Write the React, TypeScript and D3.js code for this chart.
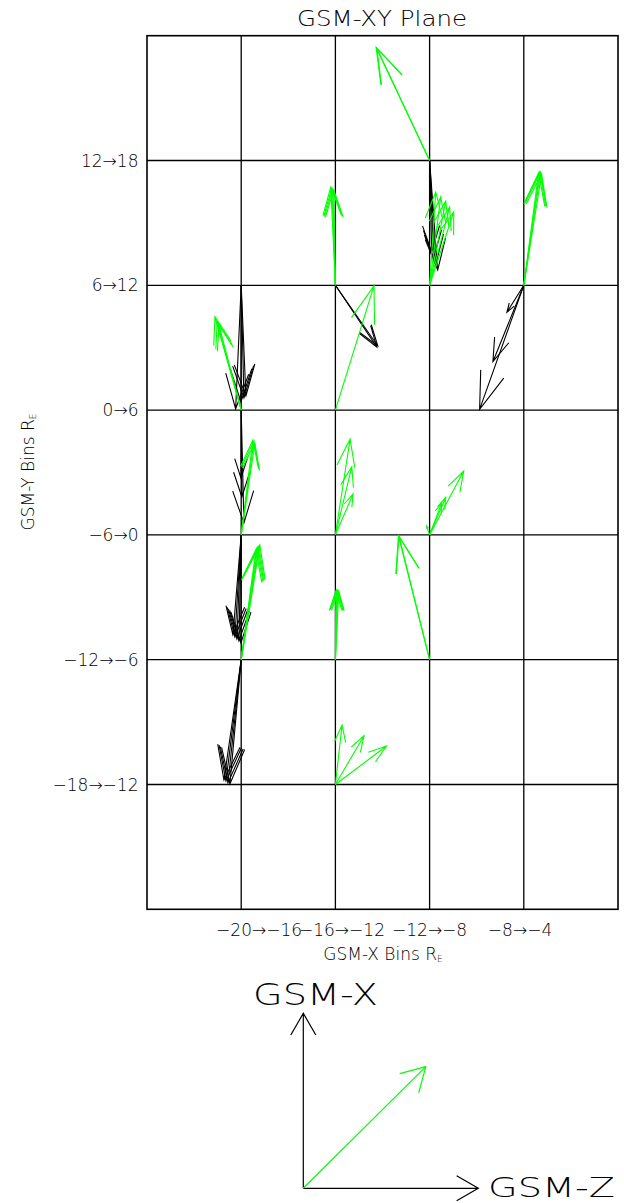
import React from "react";
import * as d3 from "d3";

// Grid nodes: columns 0..5, rows 0..7
const xTickPos = [1.19, 2.07, 3.0, 3.96];
const xTickLabels = ["−20→−16", "−16→−12", "−12→−8", "−8→−4"];
const yTickIdx = [1, 2, 3, 4, 5, 6];
const yTickLabels = ["12→18", "6→12", "0→6", "−6→0", "−12→−6", "−18→−12"];

// [col, row, u (cells, +right), v (cells, +up)]
const greenArrows: [number, number, number, number][] = [
  [3, 1, -0.568, 0.907], [3, 1, -0.56, 0.9],
  [2, 2, -0.049, 0.788], [2, 2, -0.038, 0.78], [2, 2, -0.028, 0.772], [2, 2, -0.017, 0.764],
  [4, 2, 0.157, 0.9], [4, 2, 0.168, 0.908], [4, 2, 0.178, 0.908], [4, 2, 0.189, 0.892],
  [3, 2, 0.065, 0.748], [3, 2, 0.118, 0.708], [3, 2, 0.171, 0.675], [3, 2, 0.213, 0.627], [3, 2, 0.256, 0.587],
  [2, 3, 0.41, 0.997],
  [1, 3, -0.279, 0.748], [1, 3, -0.255, 0.708], [1, 3, -0.236, 0.682],
  [1, 4, 0.124, 0.76], [1, 4, 0.135, 0.752], [1, 4, 0.145, 0.736],
  [1, 5, 0.156, 0.879], [1, 5, 0.166, 0.895], [1, 5, 0.177, 0.903], [1, 5, 0.188, 0.911], [1, 5, 0.198, 0.919],
  [2, 4, 0.156, 0.768], [2, 4, 0.174, 0.546], [2, 4, 0.188, 0.328],
  [3, 4, 0.362, 0.512], [3, 4, 0.171, 0.301], [3, 4, 0.128, 0.256], [3, 4, -0.031, 0.071],
  [2, 5, 0.004, 0.55], [2, 5, 0.015, 0.558], [2, 5, 0.025, 0.558], [2, 5, 0.036, 0.55],
  [3, 5, -0.331, 0.994], [3, 5, -0.325, 0.99],
  [2, 6, 0.071, 0.477], [2, 6, 0.304, 0.391], [2, 6, 0.542, 0.308],
];

const blackArrows: [number, number, number, number][] = [
  [3, 1, 0.022, -0.733], [3, 1, 0.043, -0.781], [3, 1, 0.065, -0.829], [3, 1, 0.086, -0.877],
  [2, 2, 0.45, -0.486], [2, 2, 0.439, -0.494],
  [4, 2, -0.469, -0.994], [4, 2, -0.328, -0.612], [4, 2, -0.179, -0.216],
  [1, 2, -0.059, -0.991], [1, 2, -0.003, -0.935], [1, 2, 0.029, -0.903], [1, 2, 0.05, -0.887],
  [1, 3, -0.003, -0.544], [1, 3, 0.007, -0.696], [1, 3, 0.029, -0.905],
  [1, 4, -0.088, -0.802], [1, 4, -0.067, -0.818], [1, 4, -0.046, -0.834], [1, 4, -0.024, -0.85], [1, 4, -0.003, -0.866],
  [1, 5, -0.183, -0.964], [1, 5, -0.162, -0.972], [1, 5, -0.141, -0.988], [1, 5, -0.12, -0.996],
];

// legend: unit vectors in legend units
const legendAxes: [number, number][] = [[0, 1], [1, 0]];
const legendVector: [number, number] = [0.70, 0.695];

const FONT = "'DejaVu Sans', sans-serif";
const FW = 200;

function arrowPath(x0: number, y0: number, x1: number, y1: number, hl: number, ang: number) {
  const dx = x0 - x1, dy = y0 - y1;
  const L = Math.hypot(dx, dy) || 1;
  const bx = dx / L, by = dy / L;
  const c = Math.cos(ang), s = Math.sin(ang);
  const a1x = x1 + hl * (bx * c - by * s), a1y = y1 + hl * (bx * s + by * c);
  const a2x = x1 + hl * (bx * c + by * s), a2y = y1 + hl * (-bx * s + by * c);
  return `M${x0},${y0}L${x1},${y1}M${a1x},${a1y}L${x1},${y1}L${a2x},${a2y}`;
}

export default function App() {
  const x = d3.scaleLinear().domain([0, 5]).range([147, 618]);
  const y = d3.scaleLinear().domain([0, 7]).range([35.7, 909.3]);

  const lg = d3.scaleLinear().domain([0, 1]).range([0, 175]);
  const ox = 303.3, oy = 1188.3;

  const headAng = (18 * Math.PI) / 180;
  const mk = (a: [number, number, number, number]) => {
    const [c, r, u, v] = a;
    const x0 = x(c), y0 = y(r);
    const x1 = x(c + u), y1 = y(r - v);
    const L = Math.hypot(x1 - x0, y1 - y0);
    return arrowPath(x0, y0, x1, y1, 0.3 * L, headAng);
  };

  return (
    <div style={{ position: "absolute", left: 0, top: 0 }}>
      <svg width={624} height={1203} style={{ display: "block", background: "#fff" }}>
        <text x={382} y={25.7} fontFamily={FONT} fontWeight={FW} fontSize={21} textAnchor="middle" textLength={170} lengthAdjust="spacingAndGlyphs" fill="#000">
          GSM-XY Plane
        </text>
        {/* grid */}
        {d3.range(1, 5).map((i) => (
          <line key={"v" + i} x1={x(i)} x2={x(i)} y1={y(0)} y2={y(7)} stroke="#000" strokeWidth={1.3} />
        ))}
        {d3.range(1, 7).map((i) => (
          <line key={"h" + i} x1={x(0)} x2={x(5)} y1={y(i)} y2={y(i)} stroke="#000" strokeWidth={1.3} />
        ))}
        <rect x={x(0)} y={y(0)} width={x(5) - x(0)} height={y(7) - y(0)} fill="none" stroke="#000" strokeWidth={1.6} />
        {/* arrows */}
        {blackArrows.map((a, i) => (
          <path key={"b" + i} d={mk(a)} fill="none" stroke="#000" strokeWidth={1.1} />
        ))}
        {greenArrows.map((a, i) => (
          <path key={"g" + i} d={mk(a)} fill="none" stroke="#00ff00" strokeWidth={1.1} />
        ))}
        {/* y ticks */}
        {yTickIdx.map((t, i) => (
          <text key={"yt" + i} x={138.5} y={y(t)} dy="0.36em" fontFamily={FONT} fontWeight={FW} fontSize={17} textAnchor="end" fill="#000">
            {yTickLabels[i]}
          </text>
        ))}
        {xTickPos.map((t, i) => (
          <text key={"xt" + i} x={x(t)} y={936} fontFamily={FONT} fontWeight={FW} fontSize={17} textAnchor="middle" fill="#000">
            {xTickLabels[i]}
          </text>
        ))}
        <text x={383} y={960} fontFamily={FONT} fontWeight={FW} fontSize={17} textAnchor="middle" fill="#000">
          GSM-X Bins R<tspan fontSize={9} dy={2}>E</tspan>
        </text>
        <text transform="translate(34,472) rotate(-90)" fontFamily={FONT} fontWeight={FW} fontSize={17} textAnchor="middle" fill="#000">
          GSM-Y Bins R<tspan fontSize={9} dy={2}>E</tspan>
        </text>
        {/* legend */}
        {legendAxes.map(([u, v], i) => (
          <path key={"la" + i} d={arrowPath(ox, oy, ox + lg(u), oy - lg(v), 25, Math.PI / 6)} fill="none" stroke="#000" strokeWidth={1.2} />
        ))}
        <path d={arrowPath(ox, oy, ox + lg(legendVector[0]), oy - lg(legendVector[1]), 27, Math.PI / 6)} fill="none" stroke="#00ff00" strokeWidth={1.2} />
        <text x={253} y={1005} fontFamily={FONT} fontWeight={FW} fontSize={30} textLength={125} lengthAdjust="spacingAndGlyphs" fill="#000">
          GSM-X
        </text>
        <text x={488} y={1197} fontFamily={FONT} fontWeight={FW} fontSize={27} textLength={127} lengthAdjust="spacingAndGlyphs" fill="#000">
          GSM-Z
        </text>
      </svg>
    </div>
  );
}
